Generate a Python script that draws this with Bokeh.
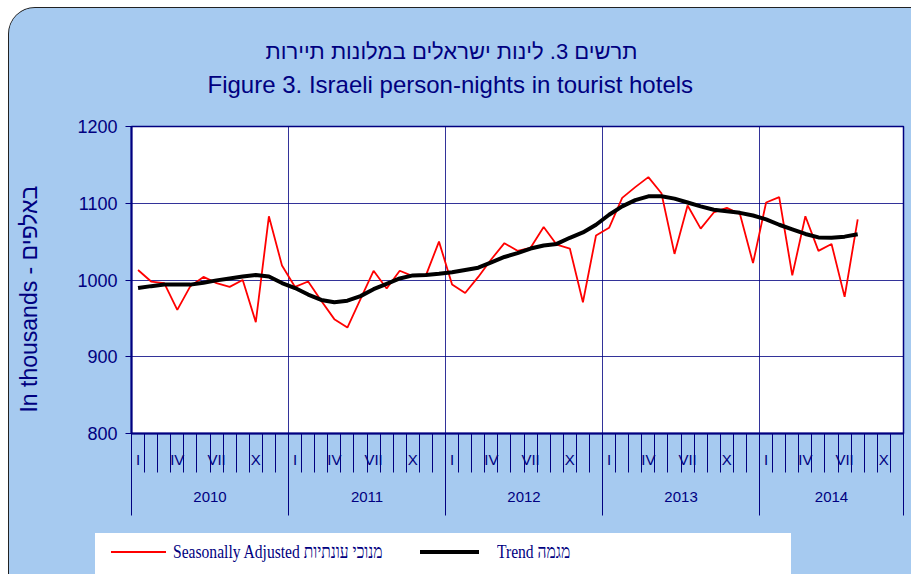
from bokeh.plotting import figure
from bokeh.layouts import column
from bokeh.models import (Range1d, LinearAxis, FixedTicker, Title, Div, ColumnDataSource)
from bokeh.embed import file_html
from bokeh.resources import INLINE

# ---------------- data ----------------
years = ["2010", "2011", "2012", "2013", "2014"]
month_numerals = ["I", "II", "III", "IV", "V", "VI", "VII", "VIII", "IX", "X", "XI", "XII"]
labelled_months = ["I", "IV", "VII", "X"]
axis_last_period = ("2014", "XI")

seasonally_adjusted = [
    1013, 998, 996, 961, 992, 1004, 996, 991, 1000, 945, 1083, 1019,   # 2010
    991, 998, 973, 949, 938, 975, 1012, 989, 1012, 1005, 1006, 1050,   # 2011
    994, 983, 1004, 1027, 1048, 1038, 1042, 1069, 1046, 1041, 971, 1058,  # 2012
    1068, 1107, 1121, 1134, 1113, 1034, 1097, 1067, 1088, 1094, 1086, 1022,  # 2013
    1101, 1108, 1006, 1083, 1038, 1047, 978, 1079,                      # 2014
]
trend = [
    989.5, 992, 994, 994, 994, 996.5, 999.5, 1002, 1004.5, 1006.5, 1004.5, 996,
    989.5, 981, 974, 971, 973, 979, 988, 995, 1002, 1006, 1006.5, 1008,
    1010, 1013, 1016, 1023, 1030, 1035, 1041, 1045, 1047, 1055, 1062, 1072,
    1085, 1096, 1104, 1109, 1109, 1106, 1101, 1096, 1091.5, 1089.5, 1087.5, 1084,
    1079, 1072, 1066, 1060, 1055.5, 1055, 1056.5, 1059.5,
]
y_ticks = [800, 900, 1000, 1100, 1200]

title_he = "תרשים 3. לינות ישראלים במלונות תיירות"
title_en = "Figure 3. Israeli person-nights in tourist hotels"
y_label = "In thousands - באלפים"
legend_sa = "Seasonally Adjusted מנוכי עונתיות"
legend_trend = "Trend מגמה"

# ---------------- derived ----------------
periods = [(y, m) for y in years for m in month_numerals]
periods = periods[:periods.index(axis_last_period) + 1]
n_periods = len(periods)
xs = [i + 0.5 for i in range(len(seasonally_adjusted))]
src = ColumnDataSource(dict(x=xs, sa=seasonally_adjusted, trend=trend))

month_label_pos = [i + 0.5 for i, (y, m) in enumerate(periods) if m in labelled_months]
month_label_map = {i + 0.5: m for i, (y, m) in enumerate(periods) if m in labelled_months}
month_bounds = list(range(n_periods + 1))

year_bounds, year_centers, year_map = [], [], {}
for yr in years:
    idx = [i for i, (y, m) in enumerate(periods) if y == yr]
    start, end = idx[0], idx[-1] + 1
    year_bounds.append(start)
    c = (start + end) / 2
    year_centers.append(c)
    year_map[c] = yr
year_bounds.append(n_periods)

NAVY = "#000080"
BG = "#A6CAF0"
RED = "#FF0000"
SANS = "Liberation Sans"
W = 902
LEFT, RIGHT = 122, 8

# ---------------- title strip ----------------
p0 = figure(width=W, height=100, output_backend="svg", toolbar_location=None,
            x_axis_location=None, y_axis_location=None,
            min_border_left=LEFT, min_border_right=RIGHT, min_border_top=92, min_border_bottom=0)
p0.border_fill_color = BG
p0.background_fill_color = BG
p0.outline_line_color = None
p0.grid.visible = False
p0.add_layout(Title(text=title_en, align="left", offset=76, standoff=5, vertical_align="bottom",
                    text_font=SANS, text_font_size="24px", text_font_style="normal",
                    text_color=NAVY), "above")
p0.add_layout(Title(text=title_he, align="left", offset=134, standoff=5, vertical_align="bottom",
                    text_font=SANS, text_font_size="22px", text_font_style="normal",
                    text_color=NAVY), "above")

# ---------------- main chart ----------------
p = figure(width=W, height=425, output_backend="svg", toolbar_location=None,
           x_range=Range1d(0, n_periods), y_range=Range1d(y_ticks[0], y_ticks[-1]),
           min_border_left=LEFT, min_border_right=RIGHT, min_border_top=18, min_border_bottom=100)
p.border_fill_color = BG
p.background_fill_color = "white"
p.outline_line_color = NAVY
p.outline_line_width = 1.5

r_sa = p.line("x", "sa", source=src, line_color=RED, line_width=1.8)
r_tr = p.line("x", "trend", source=src, line_color="black", line_width=4)

ya = p.yaxis[0]
ya.ticker = FixedTicker(ticks=y_ticks)
ya.axis_line_color = NAVY
ya.axis_line_width = 2
ya.major_tick_line_color = NAVY
ya.major_tick_out = 6
ya.major_tick_in = 0
ya.minor_tick_line_color = None
ya.major_label_text_font = SANS
ya.major_label_text_font_size = "18px"
ya.major_label_text_color = NAVY
ya.major_label_standoff = 8
ya.axis_label = y_label + "\u00a0" * 6
ya.axis_label_text_font = SANS
ya.axis_label_text_font_size = "23px"
ya.axis_label_text_font_style = "normal"
ya.axis_label_text_color = NAVY
ya.axis_label_standoff = 32

# month axis
xa = p.xaxis[0]
xa.ticker = FixedTicker(ticks=month_label_pos, minor_ticks=month_bounds)
xa.major_label_overrides = month_label_map
xa.axis_line_color = NAVY
xa.axis_line_width = 2
xa.major_tick_line_color = None
xa.major_tick_out = 0
xa.major_tick_in = 0
xa.minor_tick_line_color = NAVY
xa.minor_tick_out = 39
xa.minor_tick_in = 0
xa.major_label_text_font = SANS
xa.major_label_text_font_size = "15px"
xa.major_label_text_color = NAVY
xa.major_label_standoff = -22

# year axis
xa2 = LinearAxis(ticker=FixedTicker(ticks=year_centers, minor_ticks=year_bounds))
xa2.major_label_overrides = year_map
xa2.axis_line_color = None
xa2.major_tick_line_color = None
xa2.major_tick_out = 0
xa2.major_tick_in = 0
xa2.minor_tick_line_color = NAVY
xa2.minor_tick_in = 34
xa2.minor_tick_out = 45
xa2.major_label_text_font = SANS
xa2.major_label_text_font_size = "15px"
xa2.major_label_text_color = NAVY
xa2.major_label_standoff = -24
p.add_layout(xa2, "below")

p.xgrid.ticker = FixedTicker(ticks=year_bounds[1:-1])
p.xgrid.grid_line_color = NAVY
p.xgrid.grid_line_alpha = 0.8
p.ygrid.ticker = FixedTicker(ticks=y_ticks[1:-1])
p.ygrid.grid_line_color = NAVY
p.ygrid.grid_line_alpha = 0.8

# ---------------- legend strip ----------------
txt = ("position:absolute;top:8px;line-height:22px;font-family:'Liberation Serif';"
       "font-size:19px;color:%s;white-space:nowrap;transform:scaleX(0.82);"
       "transform-origin:left center;" % NAVY)
legend_html = (
    '<div style="position:relative;width:%dpx;height:41px;background:%s;">' % (W, BG)
    + '<div style="position:absolute;left:86px;top:0;width:696px;height:41px;background:white;"></div>'
    + '<div style="position:absolute;left:102px;top:18px;width:55px;height:2px;'
      'background:%s;"></div>' % RED
    + '<span style="%sleft:164px;">%s</span>' % (txt, legend_sa)
    + '<div style="position:absolute;left:411px;top:17px;width:59px;height:4px;background:black;"></div>'
    + '<span style="%sleft:488px;">%s</span>' % (txt, legend_trend)
    + '</div>'
)
legend_div = Div(text=legend_html, width=W, height=41, margin=0)

layout = column(p0, p, legend_div, spacing=0,
                styles={"margin": "7px 0 0 8px", "border-top-left-radius": "27px",
                        "border-top": "1px solid #222", "border-left": "1px solid #222",
                        "overflow": "hidden", "background-color": BG})

open("out.html", "w").write(file_html(layout, INLINE))
